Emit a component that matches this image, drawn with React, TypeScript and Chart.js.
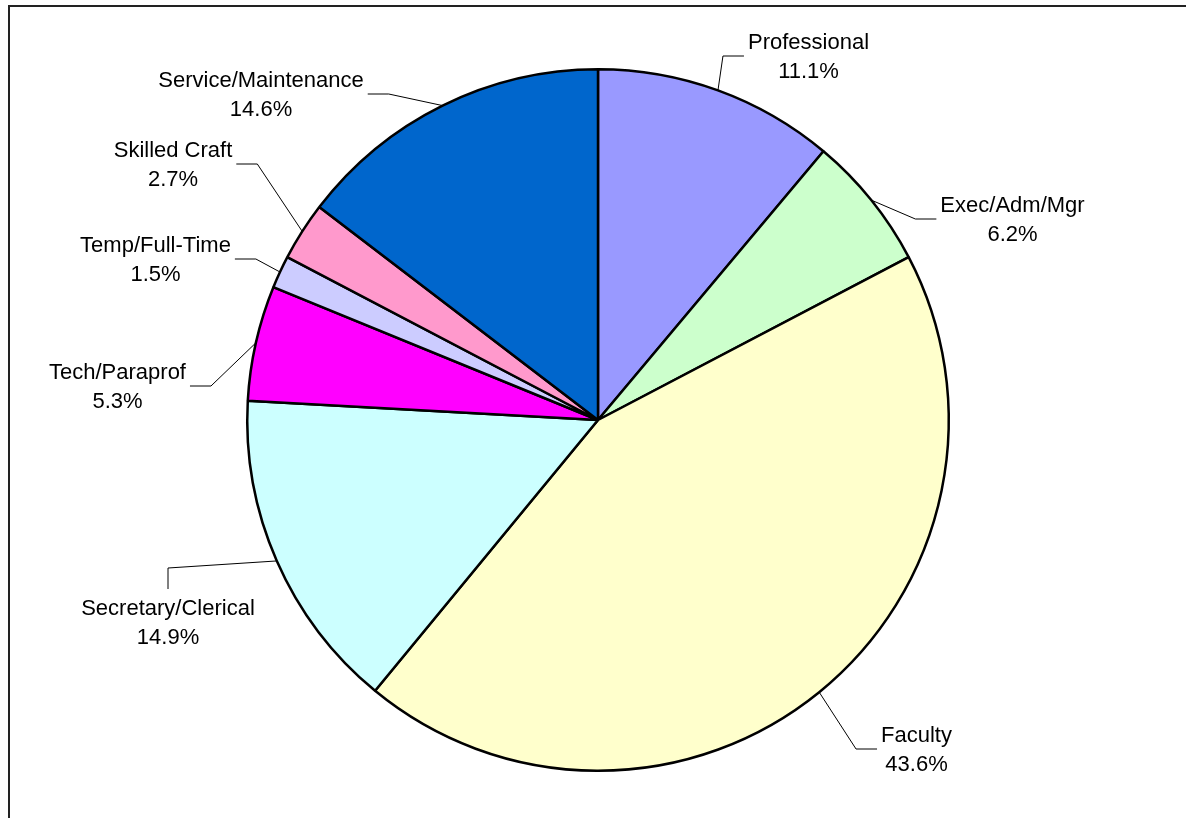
import React, { useEffect, useRef } from "react";
import { Chart, registerables } from "chart.js";

Chart.register(...registerables);

const categories = [
  "Professional",
  "Exec/Adm/Mgr",
  "Faculty",
  "Secretary/Clerical",
  "Tech/Paraprof",
  "Temp/Full-Time",
  "Skilled Craft",
  "Service/Maintenance",
];
const percentages = [11.1, 6.2, 43.6, 14.9, 5.3, 1.5, 2.7, 14.6];
const sliceColors = [
  "#9999FF",
  "#CCFFCC",
  "#FFFFCC",
  "#CCFFFF",
  "#FF00FF",
  "#CCCCFF",
  "#FF99CC",
  "#0066CC",
];

// Label placement (offset of the label block centre from the pie centre) and
// the side from which the leader line enters the label.
const labelLayout = [
  { dx: 210.5, dy: -364, side: "left" },
  { dx: 414.5, dy: -201, side: "left" },
  { dx: 318.5, dy: 329, side: "left" },
  { dx: -430, dy: 202, side: "top" },
  { dx: -480.5, dy: -34, side: "right" },
  { dx: -442.5, dy: -161, side: "right" },
  { dx: -425, dy: -256, side: "right" },
  { dx: -337, dy: -326, side: "right" },
];

const FONT_SIZE = 22;
const LINE_GAP = 29;

const framePlugin = {
  id: "frame",
  beforeDraw(chart: any) {
    const ctx = chart.ctx;
    ctx.save();
    ctx.fillStyle = "#ffffff";
    ctx.fillRect(0, 0, chart.width, chart.height);
    ctx.strokeStyle = "#222222";
    ctx.lineWidth = 2;
    ctx.beginPath();
    ctx.moveTo(9, chart.height);
    ctx.lineTo(9, 6);
    ctx.lineTo(chart.width, 6);
    ctx.stroke();
    ctx.restore();
  },
};

const labelPlugin = {
  id: "pieLabels",
  afterDatasetsDraw(chart: any) {
    const ctx = chart.ctx;
    const meta = chart.getDatasetMeta(0);
    ctx.save();
    ctx.font = `${FONT_SIZE}px "Liberation Sans", Arial, sans-serif`;
    meta.data.forEach((arc: any, i: number) => {
      const p = arc.getProps(["x", "y", "startAngle", "endAngle", "outerRadius"], true);
      const mid = (p.startAngle + p.endAngle) / 2;
      const ex = p.x + Math.cos(mid) * p.outerRadius;
      const ey = p.y + Math.sin(mid) * p.outerRadius;
      const L = labelLayout[i];
      const cx = p.x + L.dx;
      const cy = p.y + L.dy;
      const lines = [categories[i], percentages[i].toFixed(1) + "%"];
      const w = Math.max(...lines.map((t) => ctx.measureText(t).width));
      let ax: number, ay: number, bx: number, by: number;
      if (L.side === "left") {
        ax = cx - w / 2 - 4;
        ay = cy;
        bx = ax - 21;
        by = cy;
      } else if (L.side === "right") {
        ax = cx + w / 2 + 4;
        ay = cy;
        bx = ax + 21;
        by = cy;
      } else {
        ax = cx;
        ay = cy - 33;
        bx = cx;
        by = ay - 21;
      }
      ctx.strokeStyle = "#000000";
      ctx.lineWidth = 1;
      ctx.beginPath();
      ctx.moveTo(ex, ey);
      ctx.lineTo(bx, by);
      ctx.lineTo(ax, ay);
      ctx.stroke();

      ctx.fillStyle = "#000000";
      ctx.textAlign = "center";
      ctx.textBaseline = "alphabetic";
      const capShift = 0.358 * FONT_SIZE;
      ctx.fillText(lines[0], cx, cy - LINE_GAP / 2 + capShift);
      ctx.fillText(lines[1], cx, cy + LINE_GAP / 2 + capShift);
    });
    ctx.restore();
  },
};

export default function App() {
  const canvasRef = useRef<HTMLCanvasElement | null>(null);

  useEffect(() => {
    if (!canvasRef.current) return;
    const chart = new Chart(canvasRef.current, {
      type: "pie",
      data: {
        labels: categories,
        datasets: [
          {
            data: percentages,
            backgroundColor: sliceColors,
            borderColor: "#000000",
            borderWidth: 2.5,
          },
        ],
      },
      options: {
        responsive: false,
        animation: false,
        devicePixelRatio: 1,
        layout: { padding: { top: 68, bottom: 46, left: 246, right: 236 } },
        plugins: {
          legend: { display: false },
          tooltip: { enabled: false },
        },
      },
      plugins: [framePlugin, labelPlugin],
    });
    return () => chart.destroy();
  }, []);

  return (
    <div style={{ position: "fixed", left: 0, top: 0, width: 1186, height: 818 }}>
      <canvas ref={canvasRef} width={1186} height={818} style={{ width: 1186, height: 818 }} />
    </div>
  );
}
